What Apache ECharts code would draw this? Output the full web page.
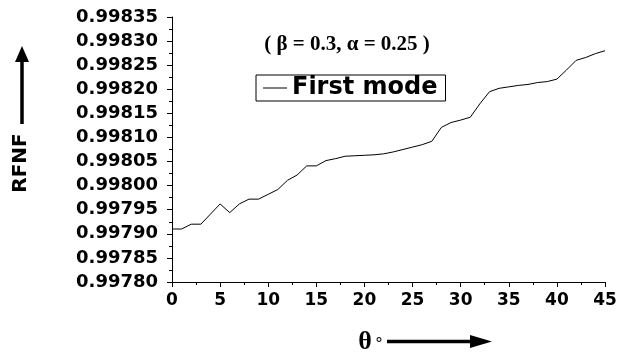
<!DOCTYPE html>
<html>
<head>
<meta charset="utf-8">
<script src="https://cdn.jsdelivr.net/npm/echarts@6/dist/echarts.min.js"></script>
<style>
  html, body { margin: 0; padding: 0; background: #fff; }
  #chart { width: 623px; height: 356px; }
</style>
</head>
<body>
<div id="chart"></div>
<script>
// Angle θ (degrees) and relative fundamental natural frequency, first mode
var thetaDeg = [0, 1, 2, 3, 4, 5, 6, 7, 8, 9, 10, 11, 12, 13, 14, 15, 16, 17, 18, 19, 20, 21, 22,
  23, 24, 25, 26, 27, 28, 29, 30, 31, 32, 33, 34, 35, 36, 37, 38, 39, 40, 41, 42, 43, 44, 45];
var firstMode = [0.997910, 0.997910, 0.997920, 0.997920, 0.997941, 0.997962, 0.997944, 0.997962,
  0.997972, 0.997972, 0.997982, 0.997992, 0.998011, 0.998022, 0.998041, 0.998041, 0.998052,
  0.998056, 0.998061, 0.998062, 0.998063, 0.998064, 0.998066, 0.998070, 0.998075, 0.998080,
  0.998085, 0.998092, 0.998121, 0.998131, 0.998136, 0.998142, 0.998170, 0.998195, 0.998202,
  0.998205, 0.998208, 0.998210, 0.998214, 0.998216, 0.998221, 0.998240, 0.998260, 0.998266,
  0.998274, 0.998280];
var seriesName = 'First mode';
var yMin = 0.99780, yMax = 0.99835, yStep = 0.00005;
var xMin = 0, xMax = 45, xStep = 5;

var points = thetaDeg.map(function (t, i) { return [t, firstMode[i]]; });

var chart = echarts.init(document.getElementById('chart'), null, { renderer: 'canvas' });
var tickFont = 'DejaVu Sans';

chart.setOption({
  animation: false,
  backgroundColor: '#ffffff',
  grid: { left: 172, right: 18, top: 17, bottom: 74 },
  xAxis: {
    type: 'value', min: xMin, max: xMax, interval: xStep,
    axisLine: { lineStyle: { color: '#000', width: 1 } },
    axisTick: { length: 5, lineStyle: { color: '#000' } },
    minorTick: { show: true, splitNumber: 2, length: 3, lineStyle: { color: '#000' } },
    splitLine: { show: false },
    axisLabel: { color: '#000', fontFamily: tickFont, fontWeight: 'bold', fontSize: 17, margin: 10 }
  },
  yAxis: {
    type: 'value', min: yMin, max: yMax, interval: yStep,
    axisLine: { show: true, lineStyle: { color: '#000', width: 1 } },
    axisTick: { show: true, length: 5, lineStyle: { color: '#000' } },
    minorTick: { show: true, splitNumber: 2, length: 3, lineStyle: { color: '#000' } },
    splitLine: { show: false },
    axisLabel: {
      color: '#000', fontFamily: tickFont, fontWeight: 'bold', fontSize: 18, margin: 14,
      formatter: function (v) { return v.toFixed(5); }
    }
  },
  legend: {
    left: 256, top: 75,
    padding: [1, 8, 1, 7],
    borderColor: '#000', borderWidth: 1,
    icon: 'rect',
    itemWidth: 24, itemHeight: 1, itemGap: 4,
    itemStyle: { color: '#000', borderWidth: 0 },
    textStyle: { color: '#000', fontFamily: tickFont, fontWeight: 'bold', fontSize: 24, lineHeight: 22, padding: [0, 0, 0, 0] },
    data: [seriesName]
  },
  series: [{
    name: seriesName,
    type: 'line',
    data: points,
    symbol: 'none',
    lineStyle: { color: '#000', width: 1 },
    itemStyle: { color: '#000' }
  }],
  graphic: [
    // parameter note above the legend
    { type: 'text', x: 347, y: 45,
      style: { text: '( β = 0.3, α = 0.25 )', fill: '#000', font: 'bold 21px "Liberation Serif"', align: 'center', verticalAlign: 'middle' } },
    // vertical axis name with upward arrow
    { type: 'text', x: 21, y: 163, rotation: Math.PI / 2,
      style: { text: 'RFNF', fill: '#000', font: 'bold 20px "DejaVu Sans"', align: 'center', verticalAlign: 'middle' } },
    { type: 'line', shape: { x1: 22, y1: 124, x2: 22, y2: 60 }, style: { stroke: '#000', lineWidth: 3.5 } },
    { type: 'polygon', shape: { points: [[15, 62], [29, 62], [22, 46]] }, style: { fill: '#000' } },
    // horizontal axis name with rightward arrow
    { type: 'text', x: 365, y: 342, style: { text: 'θ', fill: '#000', font: 'bold 26px "Liberation Serif"', align: 'center', verticalAlign: 'middle' } },
    { type: 'text', x: 379, y: 345, style: { text: '°', fill: '#000', font: '16px "DejaVu Sans"', align: 'center', verticalAlign: 'middle' } },
    { type: 'line', shape: { x1: 387, y1: 341.5, x2: 472, y2: 341.5 }, style: { stroke: '#000', lineWidth: 3.5 } },
    { type: 'polygon', shape: { points: [[470, 335], [470, 348], [492, 341.5]] }, style: { fill: '#000' } }
  ]
});
</script>
</body>
</html>
